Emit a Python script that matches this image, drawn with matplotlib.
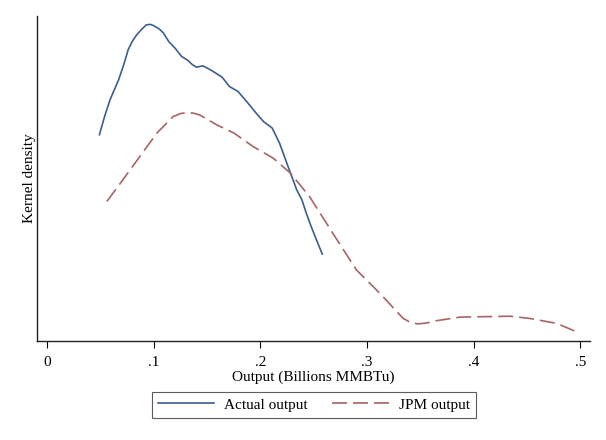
import matplotlib.pyplot as plt

# values (density units are arbitrary, no y scale shown)
actual_x = [0.049, 0.054, 0.059, 0.067, 0.072, 0.076, 0.080, 0.084, 0.089, 0.093,
            0.097, 0.100, 0.105, 0.109, 0.114, 0.120, 0.126, 0.132, 0.136, 0.140,
            0.146, 0.154, 0.164, 0.171, 0.179, 0.187, 0.196, 0.203, 0.211, 0.218,
            0.226, 0.234, 0.239, 0.243, 0.247, 0.252, 0.258]
actual_y = [4.58, 5.00, 5.36, 5.80, 6.15, 6.47, 6.66, 6.80, 6.93, 7.02,
            7.03, 7.00, 6.93, 6.84, 6.65, 6.50, 6.32, 6.23, 6.14, 6.08,
            6.11, 6.01, 5.86, 5.65, 5.54, 5.32, 5.06, 4.87, 4.73, 4.39,
            3.87, 3.36, 3.13, 2.84, 2.58, 2.28, 1.93]

jpm_x = [0.056, 0.071, 0.087, 0.103, 0.118, 0.125, 0.131, 0.137, 0.143, 0.159,
         0.175, 0.193, 0.212, 0.228, 0.246, 0.268, 0.290, 0.312, 0.334, 0.341,
         0.348, 0.356, 0.365, 0.387, 0.409, 0.434, 0.453, 0.478, 0.496]
jpm_y = [3.10, 3.58, 4.10, 4.62, 4.98, 5.05, 5.07, 5.06, 5.02, 4.80,
         4.62, 4.32, 4.06, 3.73, 3.21, 2.39, 1.58, 1.06, 0.50, 0.41,
         0.38, 0.40, 0.45, 0.53, 0.54, 0.55, 0.50, 0.39, 0.21]

xticks = [0, 0.1, 0.2, 0.3, 0.4, 0.5]
xtick_labels = ["0", ".1", ".2", ".3", ".4", ".5"]

plt.rcParams["font.family"] = ["Liberation Serif", "DejaVu Serif"]

fig = plt.figure(figsize=(6.06, 4.40), dpi=100)
ax = fig.add_axes([0.061, 0.225, 0.913, 0.739])

ax.plot(actual_x, actual_y, color="#3a5f8f", lw=1.2, label="Actual output")
ax.plot(jpm_x, jpm_y, color="#a86464", lw=1.2, dashes=(9, 3.6), label="JPM output")

ax.set_xlim(-0.0096, 0.5094)
ax.set_ylim(0, 7.22)
ax.set_xticks(xticks)
ax.set_xticklabels(xtick_labels, fontsize=11)
ax.set_yticks([])
ax.tick_params(axis="x", direction="out", length=5, width=0.8, pad=6)

for s in ["top", "right"]:
    ax.spines[s].set_visible(False)
for s in ["left", "bottom"]:
    ax.spines[s].set_linewidth(1.0)
    ax.spines[s].set_color("#222222")

ax.set_xlabel("Output (Billions MMBTu)", fontsize=11, labelpad=1)
ax.set_ylabel("Kernel density", fontsize=11, labelpad=1)

leg = fig.legend(loc="upper center", bbox_to_anchor=(0.518, 0.109), ncol=2,
                 fontsize=11, frameon=True, fancybox=False, handlelength=3.7,
                 handletextpad=0.65, columnspacing=1.6, borderpad=0.4,
                 borderaxespad=0)
leg.get_frame().set_edgecolor("#333333")
leg.get_frame().set_linewidth(0.8)

fig.savefig("out.png", dpi=100, facecolor="white")
